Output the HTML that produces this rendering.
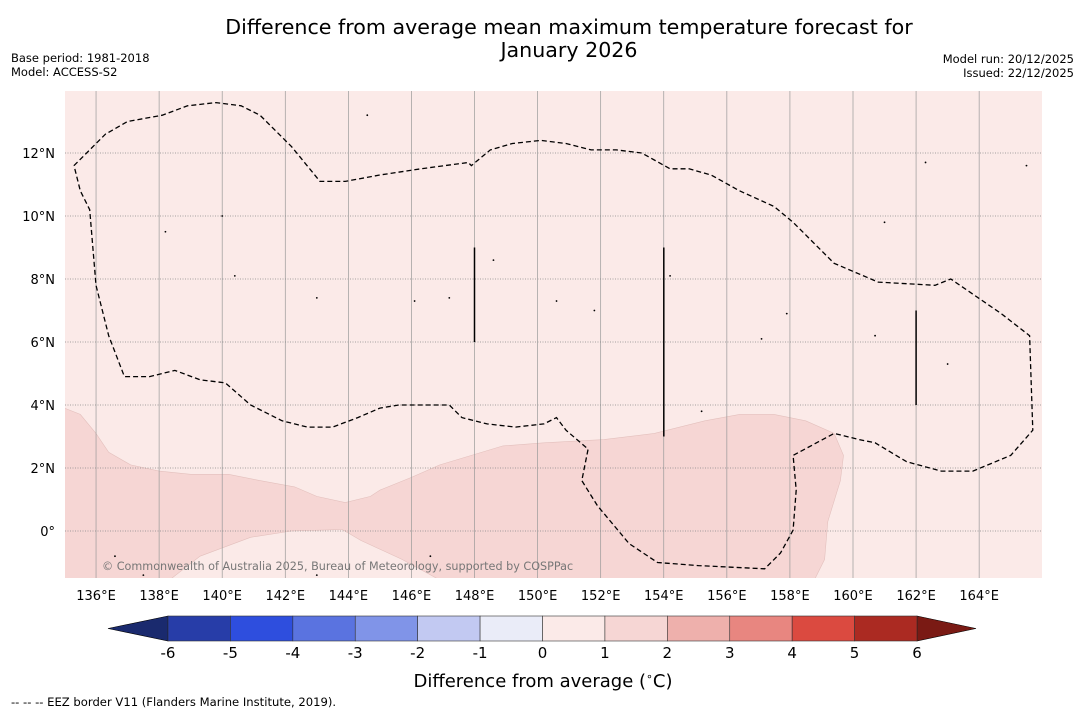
<!DOCTYPE html>
<html><head><meta charset="utf-8"><style>
body{margin:0;background:#fff;}
svg{display:block;font-family:"DejaVu Sans","Liberation Sans",sans-serif;}
</style></head><body>
<svg id="chart" width="1085" height="713" viewBox="0 0 1085 713">
<text x="569" y="34" font-size="20.6" text-anchor="middle">Difference from average mean maximum temperature forecast for</text>
<text x="569" y="57" font-size="20.6" text-anchor="middle">January 2026</text>
<text x="11" y="62" font-size="11.5">Base period: 1981-2018</text>
<text x="11" y="76" font-size="11.5">Model: ACCESS-S2</text>
<text x="1074" y="63" font-size="11.5" text-anchor="end">Model run: 20/12/2025</text>
<text x="1074" y="77" font-size="11.5" text-anchor="end">Issued: 22/12/2025</text>
<defs><clipPath id="mapclip"><rect x="65" y="91" width="977" height="487"/></clipPath></defs>
<g id="map" clip-path="url(#mapclip)">
<rect x="65" y="91" width="977" height="487" fill="#fbeae8"/>
</g>
<g id="axes"></g>
<g id="colorbar"></g>
<text x="543" y="687" font-size="18" text-anchor="middle">Difference from average (<tspan font-size="11" dy="-7">∘</tspan><tspan dy="7">C)</tspan></text>
<text x="11" y="706" font-size="11.6">--  --  -- EEZ border V11 (Flanders Marine Institute, 2019).</text>
</svg>
<script>
const NS="http://www.w3.org/2000/svg";
const lonTicks=[136,138,140,142,144,146,148,150,152,154,156,158,160,162,164];
const latTicks=[0,2,4,6,8,10,12];
const cbLevels=[-6,-5,-4,-3,-2,-1,0,1,2,3,4,5,6];
const cbColors=["#273da8","#2e4ede","#5a73e0","#8094e8","#c2c9f2","#eaecf8","#fbeae8","#f6d6d4","#eeb0ac","#e88680","#db4a40","#ab2a22"];
const anomalyRegion=[[135,3.9],[135.5,3.7],[136,3.1],[136.4,2.5],[137.1,2.1],[138,1.9],[139,1.8],[140.2,1.8],[141.2,1.6],[142.3,1.4],[143,1.1],[143.9,0.9],[144.7,1.1],[145,1.3],[146,1.7],[146.9,2.1],[147.9,2.4],[148.9,2.7],[150.2,2.8],[152.1,2.9],[153.7,3.1],[155.3,3.5],[156.4,3.7],[157.5,3.7],[158.5,3.5],[159.4,3.1],[159.7,2.4],[159.6,1.6],[159.2,0.3],[159.1,-0.9],[158.8,-1.5],[135,-1.5]];
const lightRegion=[[138.4,-1.5],[139.3,-0.8],[140.9,-0.2],[142.2,0],[143.8,0.05],[144.4,-0.3],[145.7,-0.9],[146.8,-1.5]];
const eezLine=[[135.3,11.6],[135.8,12.1],[136.3,12.6],[137,13],[138.1,13.2],[138.9,13.5],[139.8,13.6],[140.6,13.5],[141.2,13.2],[142.2,12.2],[143.1,11.1],[143.9,11.1],[145,11.3],[146.3,11.5],[147.8,11.7],[147.9,11.6],[148.5,12.1],[149.2,12.3],[150.1,12.4],[150.9,12.3],[151.7,12.1],[152.5,12.1],[153.3,12],[154.2,11.5],[154.8,11.5],[155.5,11.3],[156.4,10.8],[157.5,10.3],[158.1,9.8],[159.4,8.5],[160.8,7.9],[162.6,7.8],[163.1,8],[164.7,6.9],[165.6,6.2],[165.7,3.2],[165,2.4],[163.8,1.9],[162.8,1.9],[161.7,2.2],[160.7,2.8],[160.2,2.9],[159.4,3.1],[158.1,2.4],[158.2,1.3],[158.1,0.03],[157.7,-0.7],[157.2,-1.2],[155.1,-1.1],[153.8,-1],[152.9,-0.4],[151.9,0.8],[151.4,1.6],[151.6,2.6],[150.9,3.2],[150.6,3.6],[150.2,3.4],[149.3,3.3],[148.4,3.4],[147.6,3.6],[147.2,4],[146.3,4],[145.6,4],[145,3.9],[144.3,3.6],[143.5,3.3],[142.7,3.3],[141.9,3.5],[140.9,4],[140.1,4.7],[139.3,4.8],[138.5,5.1],[137.7,4.9],[136.9,4.9],[136.4,6.2],[136,7.8],[135.8,10.2],[135.5,10.8],[135.3,11.6]];
const eezSegments=[[[148,9],[148,6]],[[154,9],[154,3]],[[162,7],[162,4]]];
const islands=[[136.6,-0.8],[138.2,9.5],[140.4,8.1],[143,7.4],[146.1,7.3],[147.2,7.4],[148.6,8.6],[150.6,7.3],[151.8,7],[154.2,8.1],[155.2,3.8],[157.1,6.1],[157.9,6.9],[160.7,6.2],[161,9.8],[163,5.3],[165.5,11.6],[162.3,11.7],[140,10],[144.6,13.2],[143,-1.4],[146.6,-0.8],[137.5,-1.4]];
const X=lon=>64.5+(lon-135)*31.54;
const Y=lat=>531-lat*31.5;
const map=document.getElementById('map'),axes=document.getElementById('axes'),cb=document.getElementById('colorbar');
function mk(tag,attrs,parent){const e=document.createElementNS(NS,tag);for(const k in attrs)e.setAttribute(k,attrs[k]);parent.appendChild(e);return e;}
const pts=a=>a.map(p=>X(p[0]).toFixed(1)+","+Y(p[1]).toFixed(1)).join(" ");
let p=mk('polygon',{points:pts(anomalyRegion),fill:'#f6d6d4',stroke:'#e3c0bd','stroke-width':0.6},map);


p=mk('polygon',{points:pts(lightRegion),fill:'#fbeae8',stroke:'#e3c0bd','stroke-width':0.6},map);


lonTicks.forEach(l=>{const g=mk('line',{x1:X(l),x2:X(l),y1:91,y2:578,stroke:'#999','stroke-width':0.7},map);

});
latTicks.forEach(l=>{const g=mk('line',{x1:65,x2:1042,y1:Y(l),y2:Y(l),stroke:'#888','stroke-width':0.8,'stroke-dasharray':'1,1.5'},map);

});
p=mk('polyline',{points:pts(eezLine),fill:'none',stroke:'#000','stroke-width':1.3,'stroke-dasharray':'5,3'},map);


eezSegments.forEach(s=>{const l=mk('polyline',{points:pts(s),fill:'none',stroke:'#000','stroke-width':1.5},map);

});
islands.forEach(i=>{const c=mk('circle',{cx:X(i[0]),cy:Y(i[1]),r:0.9,fill:'#000'},map);

});
let t=mk('text',{x:102,y:570,'font-size':11.2,fill:'#777'},map);t.textContent='© Commonwealth of Australia 2025, Bureau of Meteorology, supported by COSPPac';


lonTicks.forEach(l=>{const e=mk('text',{x:X(l),y:600,'font-size':13,'text-anchor':'middle'},axes);e.textContent=l+'°E';

});
latTicks.forEach(l=>{const e=mk('text',{x:55,y:Y(l)+5,'font-size':13,'text-anchor':'end'},axes);e.textContent=l===0?'0°':l+'°N';

});
const cx0=168,cx1=917,cy=616,ch=25,w=(cx1-cx0)/(cbLevels.length-1);
const CX=v=>cx0+(v-cbLevels[0])*w;
let tri=mk('polygon',{points:`${cx0},${cy} 108,${cy+ch/2} ${cx0},${cy+ch}`,fill:'#1a2a6e',stroke:'#000','stroke-width':0.6},cb);


tri=mk('polygon',{points:`${cx1},${cy} 976,${cy+ch/2} ${cx1},${cy+ch}`,fill:'#7a1a14',stroke:'#000','stroke-width':0.6},cb);


cbColors.forEach((c,i)=>{const r=mk('rect',{x:CX(cbLevels[i]),y:cy,width:CX(cbLevels[i+1])-CX(cbLevels[i]),height:ch,fill:c,stroke:'#333','stroke-width':0.6},cb);

});
cbLevels.forEach(v=>{const e=mk('text',{x:CX(v),y:658,'font-size':15,'text-anchor':'middle'},cb);e.textContent=v;

});
</script>
</body></html>
